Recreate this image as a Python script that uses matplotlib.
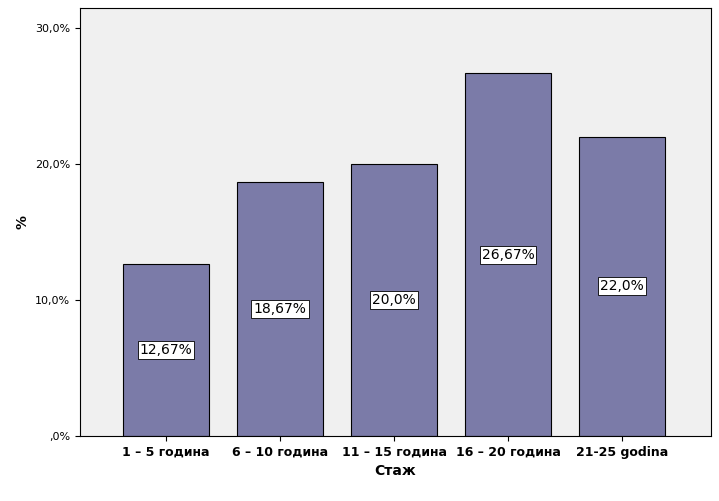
import matplotlib
matplotlib.use("Agg")
import matplotlib.pyplot as plt
from matplotlib.ticker import FuncFormatter

categories = ["1 – 5 година", "6 – 10 година", "11 – 15 година", "16 – 20 година", "21-25 godina"]
values = [12.67, 18.67, 20.0, 26.67, 22.0]
labels = ["12,67%", "18,67%", "20,0%", "26,67%", "22,0%"]

fig = plt.figure(figsize=(7.19, 5.01), dpi=100)
ax = fig.add_axes([80/719, 1-436/501, (711-80)/719, (436-8)/501])
ax.set_facecolor("#f0f0f0")
x = range(len(categories))
ax.bar(x, values, width=0.754, color="#7b7ba8", edgecolor="black", linewidth=0.8, zorder=2)
for xi, v, l in zip(x, values, labels):
    ax.text(xi, v/2, l, ha="center", va="center", fontsize=10,
            bbox=dict(facecolor="white", edgecolor="black", linewidth=0.6, pad=1.5), zorder=3)
ax.set_xlim(-0.754, 4.78)
ax.set_ylim(0, 31.47)
ax.set_yticks([0, 10, 20, 30])
ax.yaxis.set_major_formatter(FuncFormatter(lambda v, p: ",0%" if v == 0 else f"{v:.1f}%".replace(".", ",")))
ax.set_xticks(list(x))
ax.set_xticklabels(categories, fontweight="bold", fontsize=9)
ax.tick_params(axis="y", labelsize=8)
ax.set_xlabel("Стаж", fontweight="bold", fontsize=10)
ax.set_ylabel("%", fontweight="bold", fontsize=10)
for s in ax.spines.values():
    s.set_color("black")
fig.savefig("out.png", dpi=100)
